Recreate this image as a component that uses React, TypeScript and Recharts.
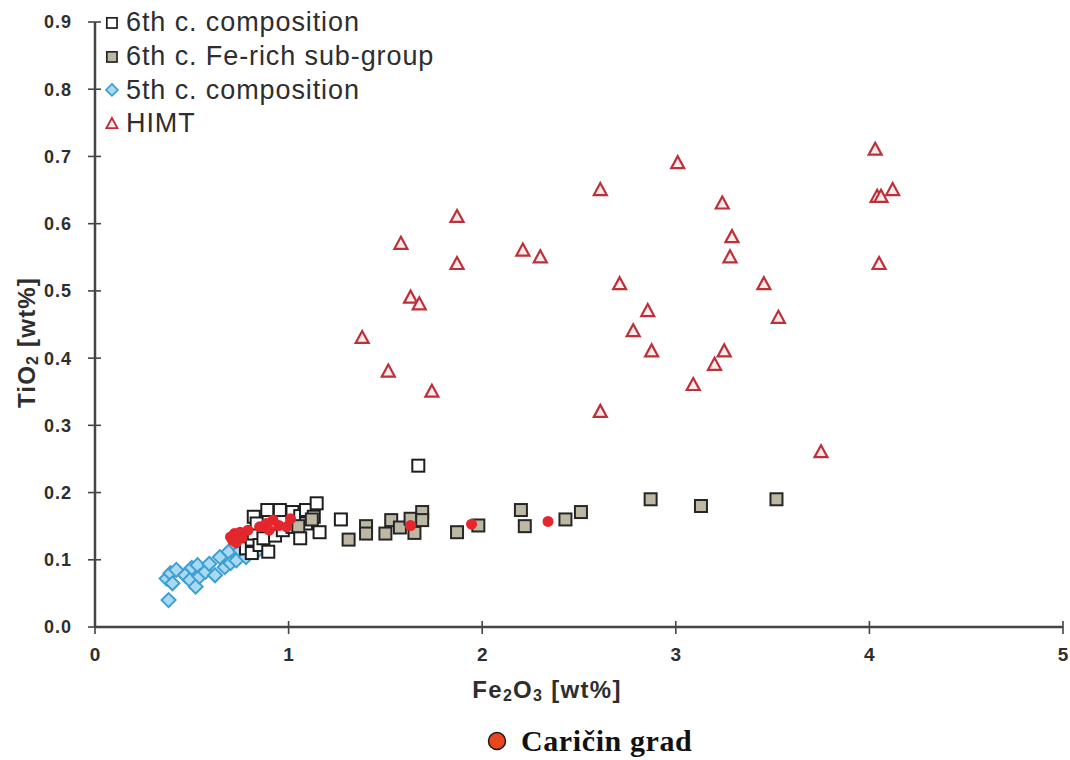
import React from 'react'
import { Label, Legend, Scatter, ScatterChart, XAxis, YAxis } from 'recharts'

// [Fe2O3, TiO2] wt% pairs
const sixthC: [number, number][] = [
    [0.78, 0.117], [0.81, 0.11], [0.81, 0.13], [0.82, 0.164], [0.82, 0.139], [0.835, 0.154],
    [0.85, 0.122], [0.87, 0.132], [0.89, 0.174], [0.895, 0.112], [0.93, 0.136], [0.955, 0.174],
    [0.97, 0.144], [1.02, 0.171], [1.02, 0.149], [1.06, 0.132], [1.06, 0.165], [1.09, 0.174],
    [1.09, 0.154], [1.13, 0.164], [1.145, 0.184], [1.16, 0.141], [1.27, 0.16], [1.67, 0.24],
]

const feRich: [number, number][] = [
    [1.05, 0.15], [1.12, 0.16], [1.31, 0.13], [1.4, 0.15], [1.4, 0.139], [1.5, 0.139],
    [1.53, 0.159], [1.575, 0.148], [1.63, 0.161], [1.65, 0.14], [1.69, 0.171], [1.69, 0.159],
    [1.87, 0.141], [1.98, 0.151], [2.2, 0.174], [2.22, 0.15], [2.43, 0.16], [2.51, 0.171],
    [2.87, 0.19], [3.13, 0.18], [3.52, 0.19],
]

const fifthC: [number, number][] = [
    [0.38, 0.04], [0.37, 0.072], [0.39, 0.08], [0.4, 0.065], [0.42, 0.085], [0.465, 0.077],
    [0.49, 0.07], [0.5, 0.088], [0.52, 0.06], [0.53, 0.092], [0.54, 0.075], [0.57, 0.082],
    [0.59, 0.094], [0.62, 0.077], [0.645, 0.104], [0.67, 0.089], [0.69, 0.112], [0.7, 0.095],
    [0.73, 0.099], [0.75, 0.114], [0.78, 0.104], [0.81, 0.119], [0.835, 0.112], [0.85, 0.129],
]

const himt: [number, number][] = [
    [1.38, 0.43], [1.515, 0.38], [1.58, 0.57], [1.63, 0.49], [1.675, 0.48], [1.74, 0.35],
    [1.87, 0.61], [1.87, 0.54], [2.21, 0.56], [2.3, 0.55], [2.61, 0.65], [2.61, 0.32],
    [2.71, 0.51], [2.78, 0.44], [2.855, 0.47], [2.875, 0.41], [3.01, 0.69], [3.09, 0.36],
    [3.2, 0.39], [3.24, 0.63], [3.25, 0.41], [3.28, 0.55], [3.29, 0.58], [3.455, 0.51],
    [3.53, 0.46], [3.75, 0.26], [4.03, 0.71], [4.04, 0.64], [4.06, 0.64], [4.12, 0.65],
    [4.05, 0.54],
]

const caricinGrad: [number, number][] = [
    [0.7, 0.134], [0.71, 0.129], [0.72, 0.139], [0.73, 0.125], [0.75, 0.141], [0.76, 0.133],
    [0.79, 0.144], [0.85, 0.149], [0.885, 0.154], [0.9, 0.144], [0.92, 0.159], [0.95, 0.151],
    [0.99, 0.149], [1.01, 0.161], [1.63, 0.151], [1.945, 0.153], [2.34, 0.157],
]

const xTicks = [0, 1, 2, 3, 4, 5]
const yTicks = [0, 0.1, 0.2, 0.3, 0.4, 0.5, 0.6, 0.7, 0.8, 0.9]

const toPoints = (rows: [number, number][]) => rows.map(([x, y]) => ({ x, y }))

const AXIS = '#454545'
const TEXT = '#2e2e2e'
const SANS = '"Liberation Sans", Arial, sans-serif'
const TICK_SIZE = 7
const X_MARGIN = 13
const Y_MARGIN = 16

const OpenSquare = ({ cx, cy }: any) => (
    <rect x={cx - 6} y={cy - 6} width={12} height={12} fill="#fff" stroke="#1e1e1e" strokeWidth={2} />
)
const GraySquare = ({ cx, cy }: any) => (
    <rect x={cx - 6} y={cy - 6} width={12} height={12} fill="#bcb8a4" stroke="#262626" strokeWidth={2} />
)
const Diamond = ({ cx, cy }: any) => (
    <polygon
        points={`${cx},${cy - 7} ${cx + 7},${cy} ${cx},${cy + 7} ${cx - 7},${cy}`}
        fill="#a9d9f1"
        stroke="#3c9fd4"
        strokeWidth={2}
    />
)
const Triangle = ({ cx, cy }: any) => (
    <polygon
        points={`${cx},${cy - 7} ${cx + 6.5},${cy + 5} ${cx - 6.5},${cy + 5}`}
        fill="#fdeaea"
        stroke="#bd3039"
        strokeWidth={2.2}
    />
)
const RedDot = ({ cx, cy }: any) => <circle cx={cx} cy={cy} r={5.5} fill="#e3272c" />

// ticks cross the axis line, so draw them ourselves
const XTick = ({ x, y, payload }: any) => {
    const axisY = y - TICK_SIZE - X_MARGIN
    return (
        <g>
            <line x1={x} x2={x} y1={axisY - 6} y2={axisY + 7} stroke={AXIS} strokeWidth={1.6} />
            <text x={x} y={y} dy="0.75em" textAnchor="middle" fill={TEXT} fontSize={19} fontWeight="bold" fontFamily={SANS}>
                {payload.value}
            </text>
        </g>
    )
}
const YTick = ({ x, y, payload }: any) => {
    const axisX = x + TICK_SIZE + Y_MARGIN
    return (
        <g>
            <line x1={axisX - 7} x2={axisX + 6} y1={y} y2={y} stroke={AXIS} strokeWidth={1.6} />
            <text x={x} y={y} dy="0.36em" textAnchor="end" fill={TEXT} fontSize={18} fontWeight="bold" fontFamily={SANS} letterSpacing={1}>
                {Number(payload.value).toFixed(1)}
            </text>
        </g>
    )
}

const XTitle = ({ viewBox }: any) => (
    <text
        x={viewBox.x + viewBox.width / 2 - 32}
        y={viewBox.y + 63}
        dy="0.35em"
        textAnchor="middle"
        fill={TEXT}
        fontSize={24}
        fontWeight="bold"
        fontFamily={SANS}
        letterSpacing={1.3}
    >
        Fe<tspan fontSize={16} dy={3}>2</tspan>
        <tspan dy={-3}>O</tspan>
        <tspan fontSize={16} dy={3}>3</tspan>
        <tspan dy={-3}> [wt%]</tspan>
    </text>
)
const YTitle = ({ viewBox }: any) => {
    const cx = viewBox.x + 22
    const cy = viewBox.y + viewBox.height / 2 + 18
    return (
        <text
            x={cx}
            y={cy}
            dy="0.35em"
            transform={`rotate(-90 ${cx} ${cy})`}
            textAnchor="middle"
            fill={TEXT}
            fontSize={24}
            fontWeight="bold"
            fontFamily={SANS}
            letterSpacing={1.2}
        >
            TiO<tspan fontSize={16} dy={3}>2</tspan>
            <tspan dy={-3}> [wt%]</tspan>
        </text>
    )
}

const legendRows = [
    { label: '6th c. composition', Icon: OpenSquare },
    { label: '6th c. Fe-rich sub-group', Icon: GraySquare },
    { label: '5th c. composition', Icon: Diamond },
    { label: 'HIMT', Icon: Triangle },
]

const renderLegend = () => (
    <div style={{ fontFamily: SANS, fontSize: 27, color: TEXT, letterSpacing: 0.9 }}>
        {legendRows.map(({ label, Icon }) => (
            <div key={label} style={{ display: 'flex', alignItems: 'center', height: 33.7 }}>
                <svg width={18} height={18} style={{ marginRight: 5 }}>
                    <g transform="scale(0.85) translate(1.5 1.5)">
                        <Icon cx={9} cy={9} />
                    </g>
                </svg>
                <span>{label}</span>
            </div>
        ))}
    </div>
)

export default function App() {
    return (
        <div style={{ position: 'absolute', left: 0, top: 0, width: 1070, height: 760, background: '#fff' }}>
            <ScatterChart width={1070} height={720} margin={{ top: 22, right: 7, bottom: 23, left: 5 }}>
                <XAxis
                    type="number"
                    dataKey="x"
                    domain={[0, 5]}
                    ticks={xTicks}
                    height={70}
                    axisLine={{ stroke: AXIS, strokeWidth: 2.5 }}
                    tickLine={false}
                    tickSize={TICK_SIZE}
                    tickMargin={X_MARGIN}
                    tick={<XTick />}
                    interval={0}
                >
                    <Label content={<XTitle />} />
                </XAxis>
                <YAxis
                    type="number"
                    dataKey="y"
                    domain={[0, 0.9]}
                    ticks={yTicks}
                    width={90}
                    axisLine={{ stroke: AXIS, strokeWidth: 2.5 }}
                    tickLine={false}
                    tickSize={TICK_SIZE}
                    tickMargin={Y_MARGIN}
                    tick={<YTick />}
                    interval={0}
                >
                    <Label content={<YTitle />} />
                </YAxis>
                <Legend
                    layout="horizontal"
                    verticalAlign="middle"
                    align="center"
                    content={renderLegend}
                    wrapperStyle={{ left: 103, top: 6, width: 420 }}
                />
                <Scatter name="5th c. composition" data={toPoints(fifthC)} shape={<Diamond />} isAnimationActive={false} />
                <Scatter name="6th c. composition" data={toPoints(sixthC)} shape={<OpenSquare />} isAnimationActive={false} />
                <Scatter name="6th c. Fe-rich sub-group" data={toPoints(feRich)} shape={<GraySquare />} isAnimationActive={false} />
                <Scatter name="HIMT" data={toPoints(himt)} shape={<Triangle />} isAnimationActive={false} />
                <Scatter name="Caričin grad" data={toPoints(caricinGrad)} shape={<RedDot />} isAnimationActive={false} legendType="none" />
            </ScatterChart>
            <div
                style={{
                    display: 'flex',
                    alignItems: 'center',
                    gap: 14,
                    marginTop: 4,
                    paddingLeft: 487,
                    fontFamily: '"Liberation Serif", "Times New Roman", serif',
                    fontWeight: 'bold',
                    fontSize: 30,
                    color: '#111',
                    letterSpacing: 0.6,
                }}
            >
                <svg width={20} height={20}>
                    <circle cx={10} cy={10} r={8.5} fill="#e8461c" stroke="#1a1a1a" strokeWidth={1.5} />
                </svg>
                <span>Caričin grad</span>
            </div>
        </div>
    )
}
